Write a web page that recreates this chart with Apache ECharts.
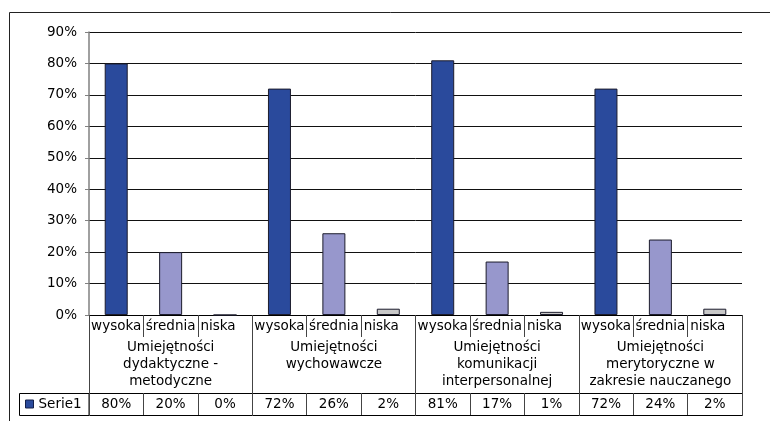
<!DOCTYPE html>
<html>
<head>
<meta charset="utf-8">
<script src="https://cdn.jsdelivr.net/npm/echarts@6/dist/echarts.min.js"></script>
<style>
  html, body { margin: 0; padding: 0; background: #fff; }
  #chart { width: 770px; height: 421px; }
</style>
</head>
<body>
<div id="chart"></div>
<script>
// Skill levels within each group
const levels = ['wysoka', 'średnia', 'niska'];
// Skill groups (multi-line labels)
const groups = [
  'Umiejętności\ndydaktyczne -\nmetodyczne',
  'Umiejętności\nwychowawcze',
  'Umiejętności\nkomunikacji\ninterpersonalnej',
  'Umiejętności\nmerytoryczne w\nzakresie nauczanego'
];
// Serie1 values in percent, three per group (wysoka, średnia, niska)
const values = [80, 20, 0, 72, 26, 2, 81, 17, 1, 72, 24, 2];
const seriesName = 'Serie1';
// Value axis range
const yMin = 0, yMax = 90, yStep = 10;

const FONT = 'DejaVu Sans';
const FS = 13.5;
const levelColors = ['#2A4A9C', '#9797CC', '#C8C8C8'];
const tableLine = '#444';

const categories = [];
groups.forEach(() => levels.forEach(l => categories.push(l)));

const chart = echarts.init(document.getElementById('chart'), null, { renderer: 'canvas' });

const labelFont = { fontFamily: FONT, fontSize: FS, color: '#000' };

const option = {
  animation: false,
  backgroundColor: '#fff',
  textStyle: { fontFamily: FONT, color: '#000' },
  grid: { left: 89, right: 28, top: 32, bottom: 106, containLabel: false, outerBoundsMode: 'none' },
  legend: {
    data: [seriesName],
    left: 25, top: 396, padding: 0,
    icon: 'rect', itemWidth: 8, itemHeight: 8,
    itemStyle: { borderColor: '#14204a', borderWidth: 1 },
    textStyle: { fontFamily: FONT, fontSize: FS, color: '#000', lineHeight: 16 }
  },
  xAxis: [
    {
      // level labels row; the last level sits a little left of centre
      type: 'category', data: categories, position: 'bottom',
      axisLine: { show: true, lineStyle: { color: '#000', width: 1 } },
      axisTick: { show: true, interval: 0, length: 22, inside: false, alignWithLabel: false, lineStyle: { color: tableLine, width: 1 } },
      axisLabel: {
        interval: 0, margin: 11, verticalAlign: 'middle', ...labelFont,
        formatter: (v, i) => (i % 3 === 2 ? '{n|' + v + '}' : v),
        rich: { n: { ...labelFont, padding: [0, 14, 0, 0] } }
      },
      splitLine: { show: false }
    },
    {
      // group labels row
      type: 'category', data: groups, position: 'bottom',
      axisLine: { show: false },
      axisTick: { show: true, interval: 0, length: 101, inside: false, alignWithLabel: false, lineStyle: { color: tableLine, width: 1 } },
      axisLabel: { interval: 0, margin: 24, verticalAlign: 'top', lineHeight: 17, align: 'center', ...labelFont },
      splitLine: { show: false }
    },
    {
      // data table row
      type: 'category', data: categories, position: 'bottom', offset: 78,
      axisLine: { show: true, lineStyle: { color: '#000', width: 1 } },
      axisTick: { show: true, interval: 0, length: 22, inside: false, alignWithLabel: false, lineStyle: { color: tableLine, width: 1 } },
      axisLabel: {
        interval: 0, margin: 11, verticalAlign: 'middle', ...labelFont,
        formatter: (v, i) => values[i] + '%'
      },
      splitLine: { show: false }
    },
    {
      // table bottom edge
      type: 'category', data: categories, position: 'bottom', offset: 100,
      axisLine: { show: true, lineStyle: { color: '#000', width: 1 } },
      axisTick: { show: false }, axisLabel: { show: false }, splitLine: { show: false }
    }
  ],
  yAxis: {
    type: 'value', min: yMin, max: yMax, interval: yStep,
    axisLine: { show: true, lineStyle: { color: '#808080', width: 1.5 } },
    axisTick: { show: true, length: 4, inside: false, lineStyle: { color: '#808080' } },
    axisLabel: { formatter: '{value}%', margin: 12, ...labelFont },
    splitLine: { show: true, lineStyle: { color: '#111', width: 1 } }
  },
  series: [{
    name: seriesName,
    type: 'bar',
    xAxisIndex: 0,
    barWidth: 23,
    color: levelColors[0],
    itemStyle: { borderColor: '#1c1c2c', borderWidth: 1 },
    data: values.map((v, i) => ({ value: v, itemStyle: { color: levelColors[i % 3] } }))
  }],
  graphic: [
    {
      // outer chart frame
      type: 'rect', silent: true, z: 0,
      shape: { x: 9.5, y: 12.5, width: 820, height: 440 },
      style: { fill: null, stroke: '#222', lineWidth: 1 }
    },
    {
      // legend key cell of the data table
      type: 'rect', silent: true, z: 0,
      shape: { x: 19.5, y: 393.5, width: 69.5, height: 22 },
      style: { fill: null, stroke: '#000', lineWidth: 1 }
    }
  ]
};

chart.setOption(option);
</script>
</body>
</html>
